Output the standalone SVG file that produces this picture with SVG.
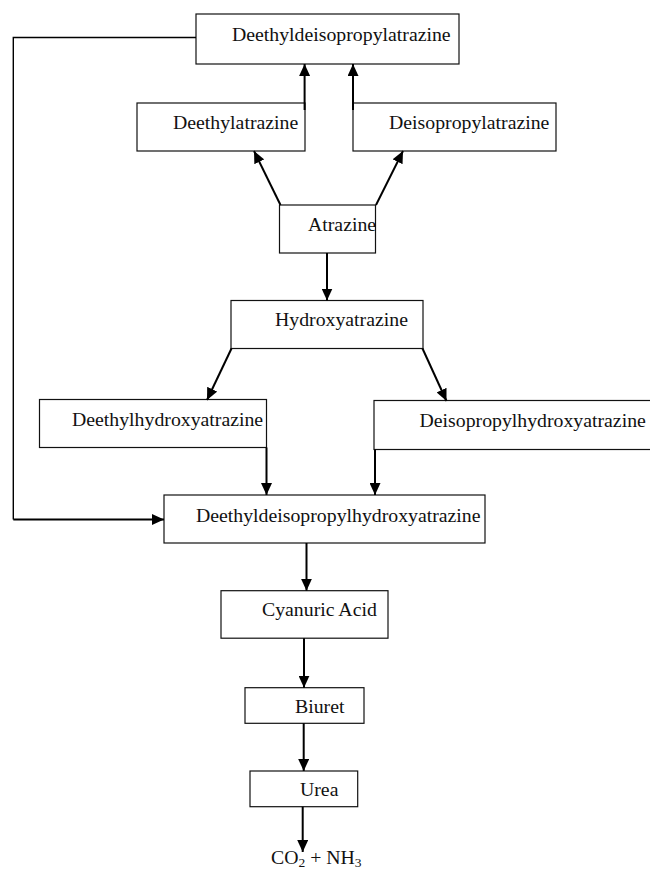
<svg xmlns="http://www.w3.org/2000/svg" width="650" height="873" viewBox="0 0 650 873">
<style>
.box{fill:#fff;stroke:#111;stroke-width:1.2}
.t{font-family:"Liberation Serif","Times New Roman",serif;font-size:19.8px;fill:#111}
.c{fill:none;stroke:#000;stroke-width:2}
.f{fill:none;stroke:#000;stroke-width:1.4}
</style>
<defs>
<marker id="ah" markerUnits="userSpaceOnUse" markerWidth="13" markerHeight="11" refX="12" refY="5.5" orient="auto">
<path d="M0,0 L12,5.5 L0,11 z" fill="#000"/>
</marker>
</defs>
<g id="n-dedia"><rect class="box" x="196" y="14" width="263" height="50"/><text class="t" x="232" y="40.7">Deethyldeisopropylatrazine</text></g>
<g id="n-dea"><rect class="box" x="137" y="103" width="168" height="48"/><text class="t" x="173" y="128.5">Deethylatrazine</text></g>
<g id="n-dia"><rect class="box" x="353" y="103" width="203" height="48"/><text class="t" x="389" y="128.5">Deisopropylatrazine</text></g>
<g id="n-atr"><rect class="box" x="279.5" y="205" width="96" height="48"/><text class="t" x="308" y="231">Atrazine</text></g>
<g id="n-hyd"><rect class="box" x="231" y="300.5" width="192" height="48"/><text class="t" x="275" y="326">Hydroxyatrazine</text></g>
<g id="n-deh"><rect class="box" x="39.5" y="399.5" width="227" height="48"/><text class="t" x="72" y="425.5">Deethylhydroxyatrazine</text></g>
<g id="n-dih"><rect class="box" x="374" y="400.5" width="280" height="49"/><text class="t" x="419.5" y="426.5">Deisopropylhydroxyatrazine</text></g>
<g id="n-dedih"><rect class="box" x="164" y="495" width="321" height="48"/><text class="t" x="196" y="521.7">Deethyldeisopropylhydroxyatrazine</text></g>
<g id="n-cya"><rect class="box" x="221" y="590.7" width="167" height="47.5"/><text class="t" x="262" y="616">Cyanuric Acid</text></g>
<g id="n-biu"><rect class="box" x="245" y="687.7" width="119" height="35.6"/><text class="t" x="295" y="712.7">Biuret</text></g>
<g id="n-urea"><rect class="box" x="250" y="771" width="107.7" height="35.7"/><text class="t" x="300" y="796">Urea</text></g>
<g id="n-end"><text class="t" x="271" y="864">CO<tspan font-size="13.5" dy="3">2</tspan><tspan dy="-3"> + NH</tspan><tspan font-size="13.5" dy="3">3</tspan></text></g>
<g id="connectors">
<path class="c" d="M304.6,110 V64" marker-end="url(#ah)"/>
<path class="c" d="M353,110 V64" marker-end="url(#ah)"/>
<path class="c" d="M280.5,205 L254,151" marker-end="url(#ah)"/>
<path class="c" d="M376,205 L403,151" marker-end="url(#ah)"/>
<path class="c" d="M327,253 V300.5" marker-end="url(#ah)"/>
<path class="c" d="M231.5,348.5 L207,400" marker-end="url(#ah)"/>
<path class="c" d="M422.5,348.5 L446.5,401" marker-end="url(#ah)"/>
<path class="c" d="M266.5,447.5 V495" marker-end="url(#ah)"/>
<path class="c" d="M375,449.5 V495" marker-end="url(#ah)"/>
<path class="c" d="M306.5,543 V590.7" marker-end="url(#ah)"/>
<path class="c" d="M304,638.2 V687.7" marker-end="url(#ah)"/>
<path class="c" d="M303.7,723.3 V771" marker-end="url(#ah)"/>
<path class="c" d="M302.7,806.7 V852" marker-end="url(#ah)"/>
<path class="f" d="M196,37.5 H13.3 V519.5"/>
<path class="c" d="M13.3,519.5 H164" marker-end="url(#ah)"/>
</g>
</svg>
